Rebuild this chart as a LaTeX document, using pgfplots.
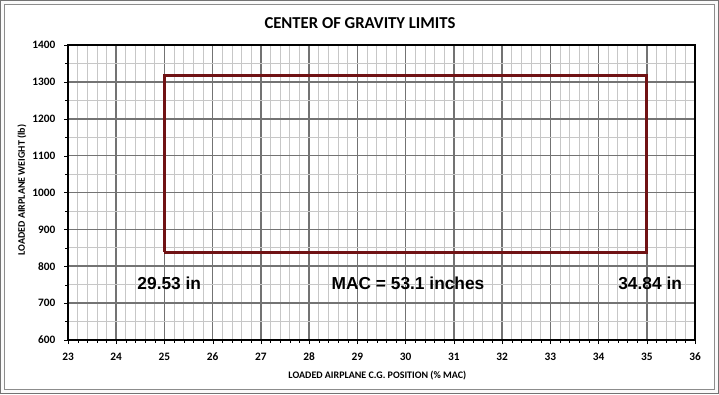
\documentclass[border=0pt]{standalone}
\usepackage{pgfplots}
\pgfplotsset{compat=1.18}
\usepackage{fontspec}
\setmainfont{Carlito}
\newfontfamily\arial{Liberation Sans}
\definecolor{boxred}{HTML}{701214}
\begin{document}
\begin{tikzpicture}
\useasboundingbox (0pt,0pt) rectangle (539.25pt,295.5pt);
\fill[white!98!black] (0pt,0pt) rectangle (539.25pt,295.5pt);
\draw[black!55, line width=1pt] (0.5pt,0.5pt) rectangle (538.75pt,295pt);
\draw[black!45, line width=0.8pt] (3.5pt,3.5pt) rectangle (535.75pt,292pt);
\fill[white] (4pt,4pt) rectangle (535.25pt,291.5pt);
\node[font=\bfseries\fontsize{12.5}{14}\selectfont] at (270pt,278.5pt) {CENTER OF GRAVITY LIMITS};
\node[font=\bfseries\fontsize{7.5}{9}\selectfont] at (283pt,13.5pt) {LOADED AIRPLANE C.G. POSITION (\% MAC)};
\node[font=\bfseries\fontsize{7.5}{9}\selectfont, rotate=90] at (16.5pt,153pt) {LOADED AIRPLANE WEIGHT (lb)};
\begin{axis}[at={(51pt,40.5pt)}, anchor=south west, scale only axis,
  width=470.25pt, height=221.25pt,
  xmin=23, xmax=36, ymin=600, ymax=1400,
  xtick distance=1, ytick distance=100,
  minor x tick num=4, minor y tick num=1,
  grid=both,
  major grid style={black!55, line width=1.2pt},
  minor grid style={black!22, line width=0.6pt},
  axis line style={black, line width=1pt},
  tick pos=left, tick align=outside,
  major tick length=3pt, minor tick length=2pt,
  tick style={black},
  /pgf/number format/assume math mode=true,
  /pgf/number format/1000 sep={},
  ticklabel style={font=\bfseries\fontsize{8.5}{10}\selectfont},
  xticklabel style={yshift=-3pt},
  yticklabel style={xshift=-3pt},
  clip=false]
\addplot[boxred, line width=2pt, mark=none] coordinates {(25,838) (35,838) (35,1318) (25,1318) (25,838)};
\node[font=\arial\bfseries\fontsize{13}{15}\selectfont] at (axis cs:25.1,755) {29.53 in};
\node[font=\arial\bfseries\fontsize{13}{15}\selectfont] at (axis cs:30.05,755) {MAC = 53.1 inches};
\node[font=\arial\bfseries\fontsize{13}{15}\selectfont] at (axis cs:35.07,755) {34.84 in};
\end{axis}
\end{tikzpicture}
\end{document}
